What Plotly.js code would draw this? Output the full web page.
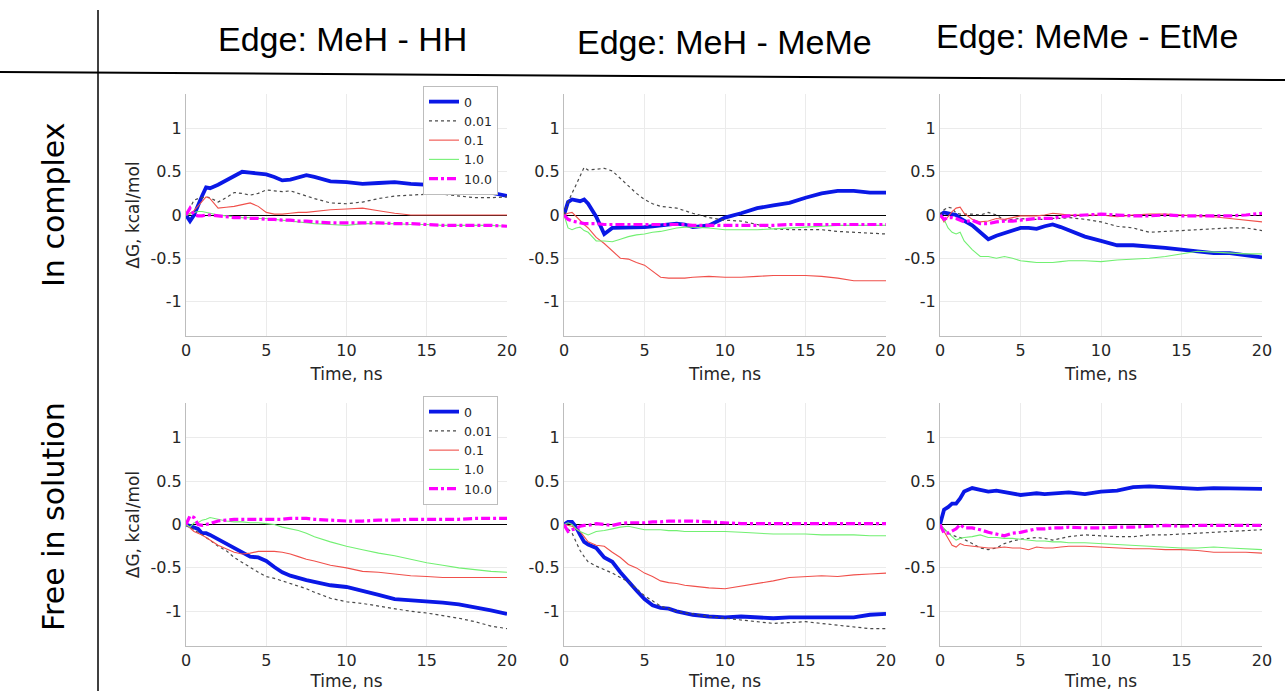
<!DOCTYPE html>
<html>
<head>
<meta charset="utf-8">
<script src="https://cdn.plot.ly/plotly-3.0.1.min.js"></script>
<style>
  html, body { margin: 0; padding: 0; background: #ffffff; }
  #chart { width: 1285px; height: 691px; }
</style>
</head>
<body>
<div id="chart"></div>
<script>
// Simulation time (ns) shared by all curves
const time = [0, 0.25, 0.5, 0.75, 1, 1.25, 1.5, 2, 2.5, 3, 3.5, 4, 4.5, 5, 5.5, 6, 6.5, 7, 7.5, 8,
              9, 10, 11, 12, 13, 14, 15, 16, 17, 18, 19, 20];

// Restraint force constants (legend entries)
const restraintLabels = ['0', '0.01', '0.1', '1.0', '10.0'];

// Column headers (perturbation edges) and row headers (environment)
const edgeTitles = ['Edge: MeH - HH', 'Edge: MeH - MeMe', 'Edge: MeMe - EtMe'];
const rowTitles = ['In complex', 'Free in solution'];

// Axis tick values / labels
const yTickVals = [-1, -0.5, 0, 0.5, 1];
const yTickText = ['-1', '-0.5', '0', '0.5', '1'];
const xTickVals = [0, 5, 10, 15, 20];
const xTickText = ['0', '5', '10', '15', '20'];

// ΔG (kcal/mol) vs time, one list per restraint constant: 0, 0.01, 0.1, 1.0, 10.0
const complexMeH_HH = [
  [0, -0.07, 0.0, 0.12, 0.22, 0.32, 0.31, 0.35, 0.40, 0.46, 0.50, 0.49, 0.48, 0.47, 0.44, 0.40, 0.41, 0.44, 0.46, 0.44, 0.39, 0.38, 0.36, 0.37, 0.38, 0.36, 0.35, 0.35, 0.33, 0.27, 0.26, 0.22],
  [0, 0.08, 0.17, 0.19, 0.20, 0.21, 0.20, 0.15, 0.20, 0.26, 0.25, 0.23, 0.25, 0.29, 0.28, 0.27, 0.28, 0.25, 0.22, 0.19, 0.14, 0.13, 0.15, 0.19, 0.22, 0.23, 0.24, 0.24, 0.22, 0.20, 0.20, 0.21],
  [0, 0.02, 0.05, 0.10, 0.15, 0.21, 0.19, 0.08, 0.09, 0.10, 0.12, 0.14, 0.10, 0.03, 0.01, 0.01, 0.02, 0.03, 0.03, 0.04, 0.06, 0.07, 0.08, 0.05, 0.02, 0.00, 0.00, 0.00, 0.00, 0.00, 0.00, 0.00],
  [0, 0.01, 0.03, 0.04, 0.04, 0.03, 0.02, 0.00, -0.01, -0.02, -0.03, -0.03, -0.04, -0.04, -0.05, -0.06, -0.07, -0.08, -0.09, -0.10, -0.11, -0.12, -0.10, -0.10, -0.10, -0.11, -0.11, -0.12, -0.12, -0.12, -0.12, -0.13],
  [0, 0.08, 0.0, -0.01, -0.01, 0.0, 0.0, -0.01, -0.02, -0.03, -0.03, -0.04, -0.04, -0.05, -0.05, -0.06, -0.06, -0.07, -0.07, -0.08, -0.09, -0.09, -0.09, -0.09, -0.10, -0.10, -0.11, -0.12, -0.12, -0.12, -0.12, -0.13]
];
const complexMeH_MeMe = [
  [0, 0.15, 0.18, 0.17, 0.16, 0.18, 0.13, -0.02, -0.22, -0.15, -0.15, -0.15, -0.15, -0.14, -0.13, -0.12, -0.11, -0.10, -0.11, -0.14, -0.12, -0.03, 0.02, 0.08, 0.11, 0.14, 0.20, 0.25, 0.28, 0.28, 0.26, 0.26],
  [0, 0.15, 0.25, 0.35, 0.45, 0.55, 0.52, 0.53, 0.54, 0.51, 0.42, 0.33, 0.25, 0.18, 0.13, 0.10, 0.09, 0.08, 0.05, 0.02, -0.03, -0.06, -0.07, -0.11, -0.16, -0.17, -0.17, -0.17, -0.19, -0.20, -0.21, -0.22],
  [0, 0.02, 0.03, -0.02, -0.07, -0.11, -0.15, -0.26, -0.33, -0.42, -0.50, -0.51, -0.55, -0.58, -0.65, -0.72, -0.73, -0.73, -0.73, -0.72, -0.71, -0.72, -0.72, -0.71, -0.70, -0.70, -0.70, -0.71, -0.73, -0.76, -0.76, -0.76],
  [0, -0.15, -0.17, -0.15, -0.14, -0.18, -0.20, -0.30, -0.30, -0.31, -0.28, -0.25, -0.23, -0.22, -0.20, -0.19, -0.17, -0.15, -0.14, -0.14, -0.15, -0.17, -0.17, -0.17, -0.16, -0.15, -0.14, -0.13, -0.12, -0.12, -0.12, -0.12],
  [0, -0.05, -0.07, -0.08, -0.09, -0.10, -0.10, -0.10, -0.11, -0.11, -0.11, -0.11, -0.11, -0.11, -0.11, -0.11, -0.11, -0.11, -0.11, -0.12, -0.12, -0.12, -0.12, -0.12, -0.12, -0.11, -0.11, -0.11, -0.11, -0.11, -0.11, -0.11]
];
const complexMeMe_EtMe = [
  [0, 0.03, 0.02, 0.01, 0.0, -0.04, -0.07, -0.12, -0.20, -0.28, -0.24, -0.21, -0.17, -0.15, -0.15, -0.16, -0.13, -0.11, -0.14, -0.18, -0.25, -0.30, -0.35, -0.35, -0.36, -0.38, -0.40, -0.42, -0.44, -0.44, -0.47, -0.49],
  [0, 0.06, 0.09, 0.08, 0.02, 0.01, 0.01, 0.01, 0.0, 0.03, 0.0, -0.06, -0.05, -0.04, -0.05, -0.05, -0.05, -0.04, -0.04, -0.03, -0.05, -0.08, -0.13, -0.15, -0.20, -0.19, -0.18, -0.17, -0.16, -0.15, -0.15, -0.18],
  [0, -0.08, -0.02, 0.04, 0.08, 0.09, 0.02, -0.05, -0.08, -0.07, -0.04, -0.05, -0.03, -0.01, -0.01, -0.01, 0.0, 0.02, 0.01, 0.0, 0.0, 0.0, -0.02, 0.0, 0.01, 0.01, 0.0, -0.01, -0.02, -0.04, -0.06, -0.08],
  [0, -0.05, -0.15, -0.20, -0.22, -0.20, -0.30, -0.40, -0.48, -0.48, -0.50, -0.48, -0.50, -0.53, -0.54, -0.55, -0.55, -0.55, -0.54, -0.53, -0.53, -0.54, -0.52, -0.51, -0.50, -0.48, -0.45, -0.42, -0.43, -0.44, -0.45, -0.45],
  [0, -0.05, -0.03, -0.03, -0.04, -0.06, -0.08, -0.06, -0.10, -0.10, -0.08, -0.07, -0.07, -0.06, -0.05, -0.04, -0.04, -0.04, -0.02, -0.01, 0.0, 0.01, 0.0, -0.01, -0.01, 0.0, -0.01, -0.01, -0.01, -0.01, 0.0, 0.02]
];
const solutionMeH_HH = [
  [0, -0.02, -0.04, -0.05, -0.10, -0.10, -0.12, -0.17, -0.21, -0.27, -0.31, -0.37, -0.38, -0.42, -0.49, -0.55, -0.59, -0.62, -0.64, -0.66, -0.70, -0.72, -0.76, -0.81, -0.86, -0.87, -0.88, -0.90, -0.92, -0.95, -0.99, -1.03],
  [0, -0.03, -0.05, -0.09, -0.12, -0.15, -0.18, -0.25, -0.30, -0.38, -0.44, -0.50, -0.55, -0.60, -0.62, -0.65, -0.68, -0.71, -0.74, -0.78, -0.85, -0.89, -0.91, -0.94, -0.97, -1.00, -1.02, -1.05, -1.08, -1.12, -1.17, -1.20],
  [0, -0.04, -0.08, -0.10, -0.12, -0.15, -0.18, -0.24, -0.28, -0.32, -0.34, -0.33, -0.31, -0.31, -0.31, -0.32, -0.34, -0.37, -0.40, -0.42, -0.47, -0.50, -0.54, -0.55, -0.57, -0.59, -0.60, -0.61, -0.61, -0.61, -0.61, -0.61],
  [0, -0.03, 0.02, 0.02, 0.05, 0.06, 0.08, 0.06, 0.04, 0.03, 0.03, 0.02, 0.02, 0.01, 0.0, -0.03, -0.05, -0.07, -0.10, -0.14, -0.20, -0.25, -0.29, -0.33, -0.36, -0.40, -0.44, -0.47, -0.50, -0.52, -0.54, -0.55],
  [0, 0.10, 0.08, 0.0, -0.01, 0.0, 0.01, 0.04, 0.05, 0.06, 0.06, 0.06, 0.06, 0.06, 0.06, 0.06, 0.07, 0.07, 0.07, 0.06, 0.05, 0.04, 0.04, 0.05, 0.05, 0.06, 0.06, 0.06, 0.06, 0.07, 0.07, 0.07]
];
const solutionMeH_MeMe = [
  [0, 0.03, 0.03, -0.03, -0.12, -0.20, -0.23, -0.27, -0.38, -0.43, -0.55, -0.66, -0.76, -0.86, -0.93, -0.96, -0.97, -1.00, -1.02, -1.04, -1.06, -1.07, -1.06, -1.07, -1.08, -1.07, -1.07, -1.07, -1.08, -1.07, -1.04, -1.03],
  [0, -0.05, -0.10, -0.20, -0.30, -0.37, -0.43, -0.48, -0.52, -0.56, -0.61, -0.66, -0.74, -0.82, -0.88, -0.94, -0.97, -1.00, -1.02, -1.03, -1.06, -1.08, -1.10, -1.12, -1.14, -1.13, -1.12, -1.14, -1.16, -1.18, -1.20, -1.20],
  [0, -0.01, -0.02, -0.05, -0.08, -0.14, -0.20, -0.24, -0.25, -0.32, -0.38, -0.46, -0.50, -0.56, -0.60, -0.65, -0.67, -0.68, -0.70, -0.71, -0.73, -0.74, -0.71, -0.68, -0.65, -0.61, -0.60, -0.59, -0.60, -0.58, -0.57, -0.56],
  [0, 0.02, 0.0, -0.05, -0.08, -0.10, -0.12, -0.08, -0.07, -0.05, -0.03, -0.02, -0.04, -0.06, -0.06, -0.06, -0.07, -0.07, -0.08, -0.08, -0.08, -0.08, -0.09, -0.10, -0.11, -0.11, -0.11, -0.12, -0.12, -0.12, -0.13, -0.13],
  [0, -0.08, -0.06, -0.05, -0.02, -0.01, -0.01, 0.01, 0.0, -0.01, 0.01, 0.02, 0.02, 0.02, 0.03, 0.03, 0.04, 0.04, 0.04, 0.04, 0.03, 0.02, 0.01, 0.01, 0.01, 0.01, 0.01, 0.01, 0.01, 0.01, 0.01, 0.01]
];
const solutionMeMe_EtMe = [
  [0, 0.17, 0.20, 0.24, 0.24, 0.30, 0.38, 0.42, 0.40, 0.38, 0.39, 0.37, 0.36, 0.34, 0.35, 0.36, 0.35, 0.36, 0.36, 0.37, 0.35, 0.38, 0.39, 0.43, 0.44, 0.43, 0.41, 0.41, 0.42, 0.42, 0.41, 0.41],
  [0, -0.05, -0.10, -0.12, -0.14, -0.15, -0.17, -0.22, -0.27, -0.29, -0.27, -0.22, -0.19, -0.17, -0.16, -0.15, -0.16, -0.18, -0.16, -0.14, -0.12, -0.13, -0.14, -0.14, -0.12, -0.12, -0.11, -0.10, -0.09, -0.08, -0.07, -0.06],
  [0, -0.08, -0.15, -0.24, -0.26, -0.22, -0.24, -0.25, -0.26, -0.27, -0.27, -0.26, -0.27, -0.27, -0.29, -0.26, -0.27, -0.27, -0.26, -0.25, -0.25, -0.26, -0.27, -0.28, -0.28, -0.29, -0.29, -0.30, -0.32, -0.32, -0.32, -0.33],
  [0, -0.05, -0.10, -0.14, -0.18, -0.16, -0.15, -0.14, -0.12, -0.15, -0.15, -0.16, -0.16, -0.17, -0.18, -0.19, -0.19, -0.20, -0.20, -0.21, -0.21, -0.22, -0.23, -0.24, -0.25, -0.26, -0.27, -0.27, -0.26, -0.27, -0.28, -0.29],
  [0, -0.10, -0.10, -0.07, -0.05, 0.0, -0.04, -0.04, -0.06, -0.09, -0.11, -0.13, -0.10, -0.09, -0.07, -0.05, -0.05, -0.04, -0.04, -0.03, -0.04, -0.04, -0.03, -0.03, -0.02, -0.01, -0.02, -0.01, -0.01, -0.01, -0.01, -0.01]
];

// Panels in reading order: top row = complex, bottom row = solution
const panels = [complexMeH_HH, complexMeH_MeMe, complexMeMe_EtMe,
                solutionMeH_HH, solutionMeH_MeMe, solutionMeMe_EtMe];

// Line style for each restraint constant
const lineStyles = [
  { color: '#0a18e6', width: 3.8, dash: 'solid' },
  { color: '#4a4a4a', width: 1.2, dash: 'dot' },
  { color: '#f0504b', width: 1.1, dash: 'solid' },
  { color: '#72f072', width: 1.1, dash: 'solid' },
  { color: '#ff00ff', width: 3.2, dash: '9px,3px,3px,3px' }
];

const W = 1285, H = 691;
const px = v => v / W;          // horizontal pixel -> paper
const py = v => 1 - v / H;      // vertical pixel -> paper

// Plot-area extents in pixels
const colBounds = [[186, 507], [564, 886], [940, 1262]];
const rowBounds = [[94, 336], [403, 646]];

const tickFont = { family: 'DejaVu Sans, sans-serif', size: 16, color: '#262626' };
const titleFont = { family: 'DejaVu Sans, sans-serif', size: 17, color: '#262626' };

const traces = [];
const layout = {
  width: W, height: H,
  margin: { l: 0, r: 0, t: 0, b: 0 },
  paper_bgcolor: '#ffffff',
  plot_bgcolor: '#ffffff',
  showlegend: true,
  annotations: [],
  shapes: []
};

panels.forEach((panel, p) => {
  const row = Math.floor(p / 3), col = p % 3;
  const n = p + 1;
  const xa = 'x' + (n === 1 ? '' : n), ya = 'y' + (n === 1 ? '' : n);
  const xk = 'xaxis' + (n === 1 ? '' : n), yk = 'yaxis' + (n === 1 ? '' : n);
  const legendId = col === 0 ? (row === 0 ? 'legend' : 'legend2') : null;

  panel.forEach((vals, s) => {
    traces.push({
      type: 'scatter', mode: 'lines',
      x: time, y: vals,
      xaxis: xa, yaxis: ya,
      name: restraintLabels[s],
      line: lineStyles[s],
      showlegend: legendId !== null,
      legend: legendId || 'legend',
      hoverinfo: 'skip'
    });
  });

  layout[xk] = {
    domain: [px(colBounds[col][0]), px(colBounds[col][1])],
    anchor: ya,
    range: [0, 20],
    tickvals: xTickVals, ticktext: xTickText,
    tickfont: tickFont,
    ticks: '', showgrid: true, gridcolor: '#ebebeb', gridwidth: 1,
    showline: true, linecolor: '#bdbdbd', linewidth: 1, mirror: false,
    zeroline: false,
    title: { text: 'Time, ns', font: titleFont, standoff: 8 }
  };
  layout[yk] = {
    domain: [py(rowBounds[row][1]), py(rowBounds[row][0])],
    anchor: xa,
    range: [-1.4, 1.4],
    tickvals: yTickVals, ticktext: yTickText,
    tickfont: tickFont,
    ticks: '', showgrid: true, gridcolor: '#ebebeb', gridwidth: 1,
    showline: true, linecolor: '#bdbdbd', linewidth: 1, mirror: false,
    zeroline: true, zerolinecolor: '#000000', zerolinewidth: 1,
    title: col === 0 ? { text: 'ΔG, kcal/mol', font: titleFont, standoff: 6 } : { text: '' }
  };
});

// Legends inside the left-hand panels
const legendStyle = {
  xanchor: 'right', yanchor: 'top',
  bgcolor: '#ffffff', bordercolor: '#bdbdbd', borderwidth: 1,
  font: { family: 'DejaVu Sans, sans-serif', size: 12.5, color: '#262626' },
  tracegroupgap: 0, itemwidth: 30
};
layout.legend = Object.assign({ x: px(498), y: py(86) }, legendStyle);
layout.legend2 = Object.assign({ x: px(498), y: py(396) }, legendStyle);

// Column headers
const headerPos = [[342, 39], [724, 42], [1087, 36]];
edgeTitles.forEach((t, i) => {
  layout.annotations.push({
    text: t, xref: 'paper', yref: 'paper',
    x: px(headerPos[i][0]), y: py(headerPos[i][1]),
    xanchor: 'center', yanchor: 'middle', showarrow: false,
    font: { family: 'Liberation Sans, Arial, sans-serif', size: 34, color: '#000000' }
  });
});

// Row headers (rotated)
const rowLabelY = [205, 517];
rowTitles.forEach((t, i) => {
  layout.annotations.push({
    text: t, xref: 'paper', yref: 'paper',
    x: px(53), y: py(rowLabelY[i]),
    xanchor: 'center', yanchor: 'middle', showarrow: false, textangle: -90,
    font: { family: 'DejaVu Sans, sans-serif', size: 30, color: '#000000' }
  });
});

// Table-style divider lines
layout.shapes.push({
  type: 'line', xref: 'paper', yref: 'paper',
  x0: px(98), x1: px(98), y0: 0, y1: py(10),
  line: { color: '#000000', width: 1.5 }
});
layout.shapes.push({
  type: 'line', xref: 'paper', yref: 'paper',
  x0: 0, x1: 1, y0: py(72), y1: py(80),
  line: { color: '#000000', width: 2 }
});

Plotly.newPlot('chart', traces, layout, { staticPlot: true, displayModeBar: false });
</script>
</body>
</html>
